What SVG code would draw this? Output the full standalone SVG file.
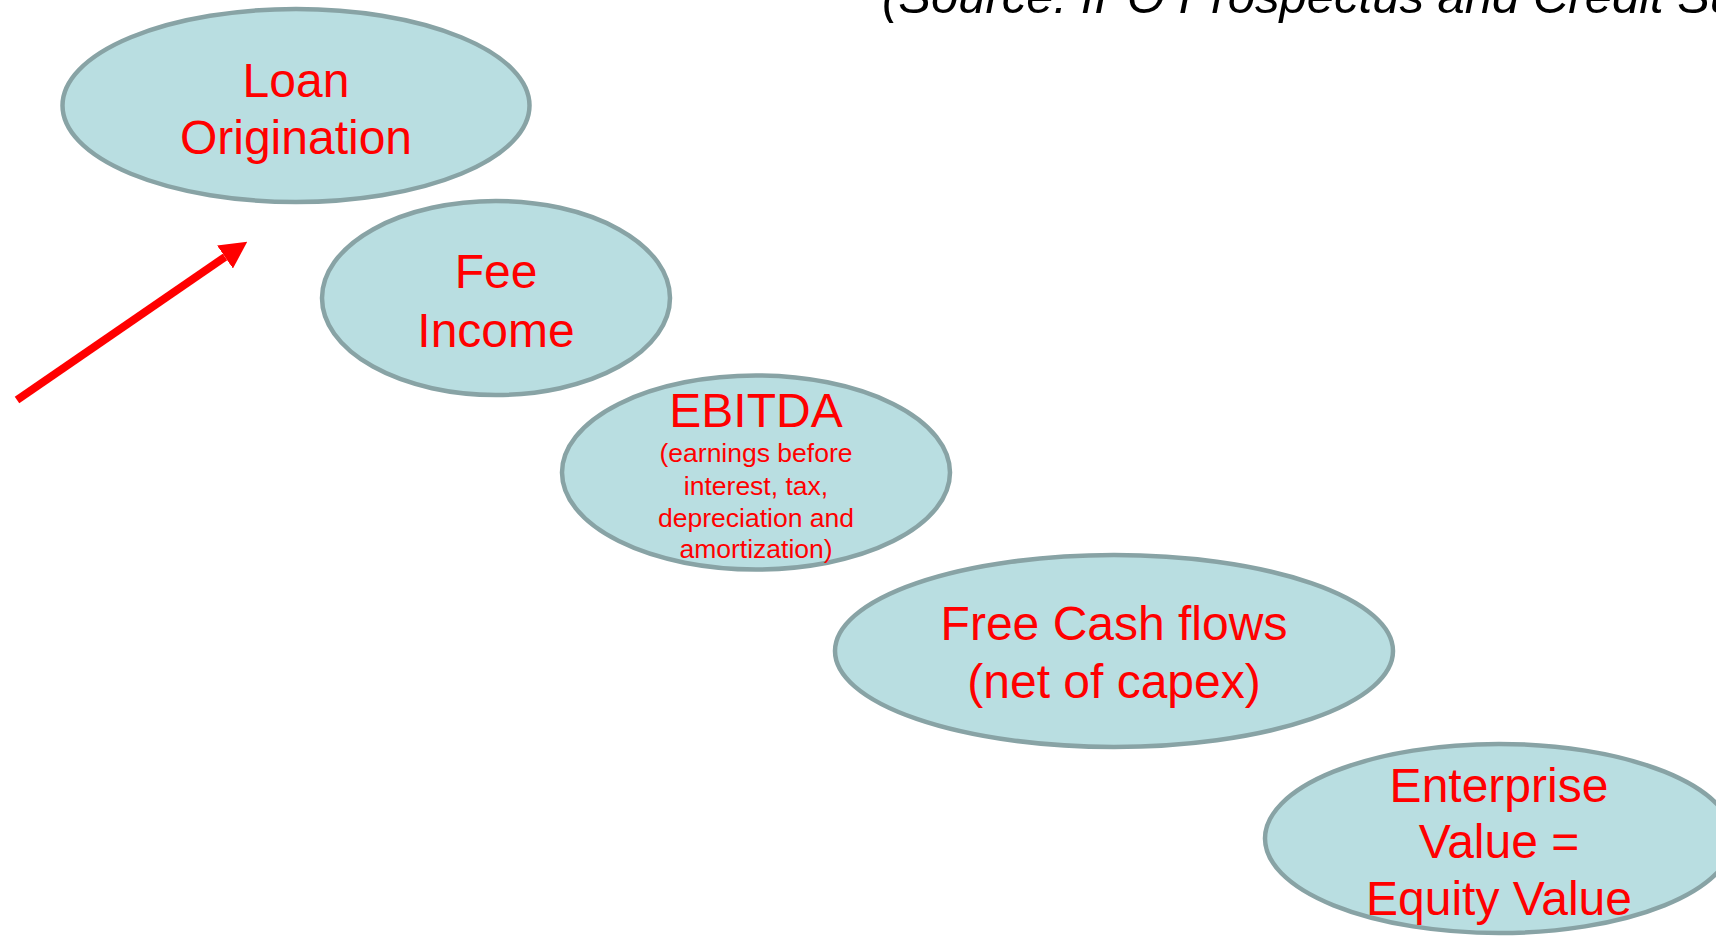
<svg xmlns="http://www.w3.org/2000/svg" width="1716" height="937" viewBox="0 0 1716 937">
  <style>
    .node ellipse { fill: #B9DEE1; stroke: #88A3A5; stroke-width: 4.5; }
    .lbl { font-family: "Liberation Sans", Arial, sans-serif; fill: #FF0000; text-anchor: middle; font-size: 48px; }
    .sm { font-size: 26.5px; }
    .src { font-family: "Liberation Sans", Arial, sans-serif; font-style: italic; font-size: 49px; fill: #000000; }
  </style>
  <defs>
    <marker id="arrowhead" markerUnits="userSpaceOnUse" markerWidth="27" markerHeight="28" viewBox="0 0 27 28" refX="0" refY="14" orient="auto">
      <path d="M0,0 L27,14 L0,28 z" fill="#FF0000"/>
    </marker>
  </defs>
  <rect width="1716" height="937" fill="#FFFFFF"/>

  <text class="src" x="882" y="13">(Source: IPO Prospectus and Credit Su</text>

  <g id="loan-origination" class="node">
    <ellipse cx="296" cy="105.5" rx="233.5" ry="96.5"/>
    <text class="lbl" x="296" y="97">Loan</text>
    <text class="lbl" x="296" y="154">Origination</text>
  </g>

  <g id="fee-income" class="node">
    <ellipse cx="496" cy="298" rx="174" ry="97"/>
    <text class="lbl" x="496" y="288">Fee</text>
    <text class="lbl" x="496" y="347">Income</text>
  </g>

  <g id="ebitda" class="node">
    <ellipse cx="756" cy="472.5" rx="194" ry="97"/>
    <text class="lbl" x="756" y="427">EBITDA</text>
    <text class="lbl sm" x="756" y="462">(earnings before</text>
    <text class="lbl sm" x="756" y="495">interest, tax,</text>
    <text class="lbl sm" x="756" y="527">depreciation and</text>
    <text class="lbl sm" x="756" y="558">amortization)</text>
  </g>

  <g id="free-cash-flows" class="node">
    <ellipse cx="1114" cy="651" rx="279" ry="96"/>
    <text class="lbl" x="1114" y="640">Free Cash flows</text>
    <text class="lbl" x="1114" y="698">(net of capex)</text>
  </g>

  <g id="enterprise-value" class="node">
    <ellipse cx="1499" cy="838.5" rx="234" ry="94.5"/>
    <text class="lbl" x="1499" y="802">Enterprise</text>
    <text class="lbl" x="1499" y="858">Value =</text>
    <text class="lbl" x="1499" y="915">Equity Value</text>
  </g>

  <g id="connectors">
    <line x1="17" y1="400" x2="225" y2="257" stroke="#FF0000" stroke-width="8" marker-end="url(#arrowhead)"/>
  </g>
</svg>
